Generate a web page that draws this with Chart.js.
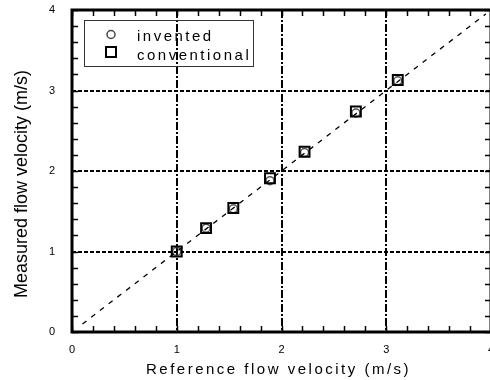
<!DOCTYPE html>
<html>
<head>
<meta charset="utf-8">
<script src="https://cdn.jsdelivr.net/npm/chart.js@4/dist/chart.umd.min.js"></script>
<style>
  html, body { margin: 0; padding: 0; background: #fff; overflow: hidden; }
  #flowChart { display: block; }
</style>
</head>
<body>
<canvas id="flowChart" width="500" height="380"></canvas>
<script>
// reference velocity for each run (m/s)
var refVelocity = [1.00, 1.28, 1.54, 1.89, 2.22, 2.71, 3.11];
// measured velocity, invented meter
var inventedVelocity = [1.00, 1.29, 1.53, 1.88, 2.23, 2.72, 3.12];
// measured velocity, conventional meter
var conventionalVelocity = [1.00, 1.29, 1.54, 1.91, 2.24, 2.74, 3.13];
// 1:1 line end points
var idealLine = [0.1, 3.95];
var axisTicks = [0, 1, 2, 3, 4];

var FONT = "'Liberation Sans', Arial, sans-serif";

function pairs(xs, ys) {
    var out = [];
    for (var i = 0; i < xs.length; i++) out.push({x: xs[i], y: ys[i]});
    return out;
}

var decorations = {
    id: 'decorations',
    beforeDatasetsDraw: function(chart) {
        var ctx = chart.ctx;
        var a = chart.chartArea;
        var xs = chart.scales.x, ys = chart.scales.y;
        ctx.save();
        ctx.strokeStyle = '#000';
        ctx.lineWidth = 1.5;
        ctx.beginPath();
        // minor ticks, every 0.2, pointing inward on all four sides
        for (var i = 0; i <= 20; i++) {
            var v = i / 5;
            var px = Math.round(xs.getPixelForValue(v)) + 0.5;
            var py = Math.round(ys.getPixelForValue(v)) + 0.5;
            ctx.moveTo(px, a.bottom); ctx.lineTo(px, a.bottom - 6);
            ctx.moveTo(px, a.top); ctx.lineTo(px, a.top + 6);
            ctx.moveTo(a.left, py); ctx.lineTo(a.left + 6, py);
            ctx.moveTo(a.right, py); ctx.lineTo(a.right - 6, py);
        }
        ctx.stroke();
        ctx.lineWidth = 3;
        ctx.strokeRect(a.left, a.top, a.right - a.left, a.bottom - a.top);
        ctx.restore();
    },
    afterDraw: function(chart) {
        var ctx = chart.ctx;
        ctx.save();
        ctx.fillStyle = '#000';

        // legend box
        ctx.strokeStyle = '#333';
        ctx.lineWidth = 1;
        ctx.strokeRect(84.5, 20.5, 169, 46);
        ctx.strokeStyle = '#444';
        ctx.lineWidth = 1.5;
        ctx.beginPath();
        ctx.arc(111, 34.5, 4, 0, 2 * Math.PI);
        ctx.stroke();
        ctx.strokeStyle = '#000';
        ctx.lineWidth = 2;
        ctx.strokeRect(106, 47, 10, 10);

        ctx.font = '15px ' + FONT;
        ctx.textAlign = 'left';
        ctx.textBaseline = 'alphabetic';
        ctx.letterSpacing = '2.5px';
        ctx.fillText('invented', 137, 41);
        ctx.fillText('conventional', 137, 60);

        // axis titles
        ctx.fillText('Reference flow velocity (m/s)', 146, 374);
        ctx.letterSpacing = '0px';
        ctx.font = '18px ' + FONT;
        ctx.translate(27, 298);
        ctx.rotate(-Math.PI / 2);
        ctx.fillText('Measured flow velocity (m/s)', 0, 0);
        ctx.restore();
    }
};

function gridColor(c) {
    var v = c.tick ? c.tick.value : 0;
    return (v > 0 && v < 4) ? '#000' : 'rgba(0,0,0,0)';
}

function fixedTicks(s) {
    s.ticks = axisTicks.map(function(v) { return {value: v}; });
}

new Chart(document.getElementById('flowChart'), {
    type: 'scatter',
    data: {
        datasets: [
            {
                label: '1:1',
                type: 'line',
                data: pairs(idealLine, idealLine),
                borderColor: '#000',
                borderWidth: 1.3,
                borderDash: [5, 6],
                pointRadius: 0,
                fill: false
            },
            {
                label: 'conventional',
                data: pairs(refVelocity, conventionalVelocity),
                pointStyle: 'rect',
                pointRadius: 7,
                borderColor: '#000',
                borderWidth: 2,
                backgroundColor: 'rgba(0,0,0,0)'
            },
            {
                label: 'invented',
                data: pairs(refVelocity, inventedVelocity),
                pointStyle: 'circle',
                pointRadius: 4,
                borderColor: '#555',
                borderWidth: 1.5,
                backgroundColor: 'rgba(0,0,0,0)'
            }
        ]
    },
    options: {
        responsive: false,
        animation: false,
        devicePixelRatio: 1,
        layout: { padding: { top: 10, right: 8, left: 0, bottom: 0 } },
        plugins: {
            legend: { display: false },
            tooltip: { enabled: false }
        },
        scales: {
            x: {
                type: 'linear',
                min: 0, max: 4,
                afterBuildTicks: fixedTicks,
                afterFit: function(s) {
                    s.height = 48;
                    s.paddingLeft = 0;
                    s.paddingRight = 0;
                },
                ticks: { color: '#000', font: { family: FONT, size: 11 }, padding: 11, maxRotation: 0 },
                grid: { color: gridColor, lineWidth: 2, drawTicks: false },
                border: { display: false, dash: [8, 2, 2, 2] }
            },
            y: {
                type: 'linear',
                min: 0, max: 4,
                afterBuildTicks: fixedTicks,
                afterFit: function(s) {
                    s.width = 72;
                    s.paddingTop = 0;
                    s.paddingBottom = 0;
                },
                ticks: { color: '#000', font: { family: FONT, size: 11 }, padding: 17 },
                grid: { color: gridColor, lineWidth: 2, drawTicks: false },
                border: { display: false, dash: [4, 2] }
            }
        }
    },
    plugins: [decorations]
});
</script>
</body>
</html>
